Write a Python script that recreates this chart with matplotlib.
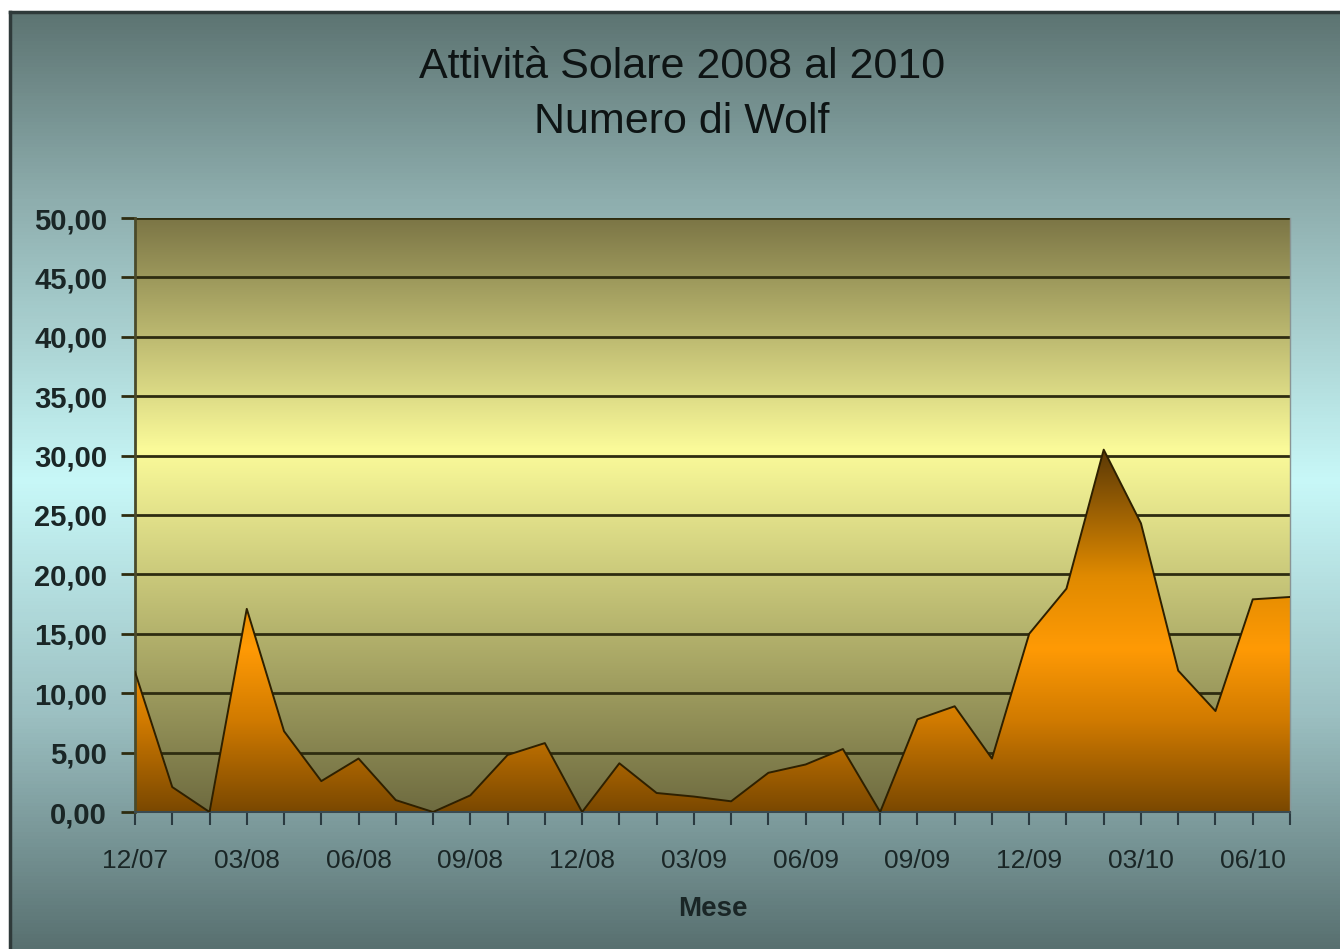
import matplotlib
matplotlib.use("Agg")
import matplotlib.pyplot as plt
import numpy as np
from matplotlib.colors import LinearSegmentedColormap

plt.rcParams['font.family'] = ['Liberation Sans', 'DejaVu Sans']

# mesi da 12/07 a 07/10
mesi = ["12/07", "01/08", "02/08", "03/08", "04/08", "05/08", "06/08", "07/08",
        "08/08", "09/08", "10/08", "11/08", "12/08", "01/09", "02/09", "03/09",
        "04/09", "05/09", "06/09", "07/09", "08/09", "09/09", "10/09", "11/09",
        "12/09", "01/10", "02/10", "03/10", "04/10", "05/10", "06/10", "07/10"]
# numero di Wolf mensile
wolf = [11.8, 2.1, 0.0, 17.1, 6.8, 2.6, 4.5, 1.0,
        0.0, 1.4, 4.8, 5.8, 0.0, 4.1, 1.6, 1.3,
        0.9, 3.3, 4.0, 5.3, 0.0, 7.8, 8.9, 4.5,
        15.0, 18.8, 30.5, 24.3, 11.9, 8.5, 17.9, 18.1]
yticks = [0, 5, 10, 15, 20, 25, 30, 35, 40, 45, 50]


def gradiente(stops, n=256):
  cmap = LinearSegmentedColormap.from_list("g", stops)
  return cmap(np.linspace(0, 1, n)).reshape(n, 1, 4)


fig = plt.figure(figsize=(13.4, 9.49), dpi=100, facecolor="white")

# sfondo del grafico (sfumatura verticale)
bg = fig.add_axes([10 / 1340, 0, 1 - 10 / 1340, (949 - 12) / 949])
bg_grad = gradiente([(0.0, "#587070"), (0.25, "#9cc0c2"), (0.5, "#c8f8f8"),
                     (0.8, "#8eaeae"), (1.0, "#5d7472")])
bg.imshow(bg_grad, extent=[0, 1, 0, 1], aspect="auto", origin="lower")
bg.set_xlim(0, 1)
bg.set_ylim(0, 1)
bg.set_xticks([])
bg.set_yticks([])
for s in ["right", "bottom"]:
  bg.spines[s].set_visible(False)
for s in ["top", "left"]:
  bg.spines[s].set_color("#2f3a3a")
  bg.spines[s].set_linewidth(2.5)

ax = fig.add_axes([135 / 1340, 1 - 812 / 949, (1290 - 135) / 1340, (812 - 218) / 949])
ax.patch.set_alpha(0)
x = np.arange(len(wolf))
ax.set_xlim(0, len(wolf) - 1)
ax.set_ylim(0, 50)

# area del grafico
area_grad = gradiente([(0.0, "#6e6b40"), (0.61, "#fbfb9a"), (1.0, "#7c7646")])
ax.imshow(area_grad, extent=[0, len(wolf) - 1, 0, 50], aspect="auto",
          origin="lower", zorder=0)

# riempimento arancione sfumato
fill = ax.fill_between(x, wolf, 0, facecolor="none", edgecolor="none", zorder=2)
fill_grad = gradiente([(0.0, "#7a4800"), (0.25, "#d07a00"), (0.45, "#ff9a05"),
                       (0.65, "#e08a00"), (1.0, "#5a3806")])
img = ax.imshow(fill_grad, extent=[0, len(wolf) - 1, 0, max(wolf)], aspect="auto",
                origin="lower", zorder=2)
img.set_clip_path(fill.get_paths()[0], ax.transData)
ax.plot(x, wolf, color="#2e2000", lw=1.4, zorder=3)

ax.set_axisbelow(True)
ax.set_yticks(yticks, labels=["{:.2f}".format(v).replace(".", ",") for v in yticks])
ax.grid(axis="y", color="#2e2c10", lw=2)
ax.set_xticks(x, labels=[m if i % 3 == 0 else "" for i, m in enumerate(mesi)])

ax.tick_params(axis="y", length=10, width=2, color="#2e2c10", pad=10,
               labelsize=21, labelcolor="#1a2626")
ax.tick_params(axis="x", length=9, width=1.5, color="#2a3a40", pad=18,
               labelsize=19, labelcolor="#1a2626")
for lab in ax.get_yticklabels():
  lab.set_fontweight("bold")

ax.spines["top"].set_visible(False)
ax.spines["left"].set_color("#4a4a2a")
ax.spines["left"].set_linewidth(2)
ax.spines["bottom"].set_color("#3a4a50")
ax.spines["bottom"].set_linewidth(1.5)
ax.spines["right"].set_color("#8a9494")
ax.spines["right"].set_linewidth(1)

ax.set_xlabel("Mese", fontsize=20, fontweight="bold", color="#1a2626", labelpad=16)

fig.text(0.509, 1 - 67 / 949, "Attività Solare 2008 al 2010", fontsize=31,
         ha="center", va="center", color="#0e1414")
fig.text(0.509, 1 - 122 / 949, "Numero di Wolf", fontsize=31,
         ha="center", va="center", color="#0e1414")

fig.savefig("out.png", dpi=100, facecolor="white")
